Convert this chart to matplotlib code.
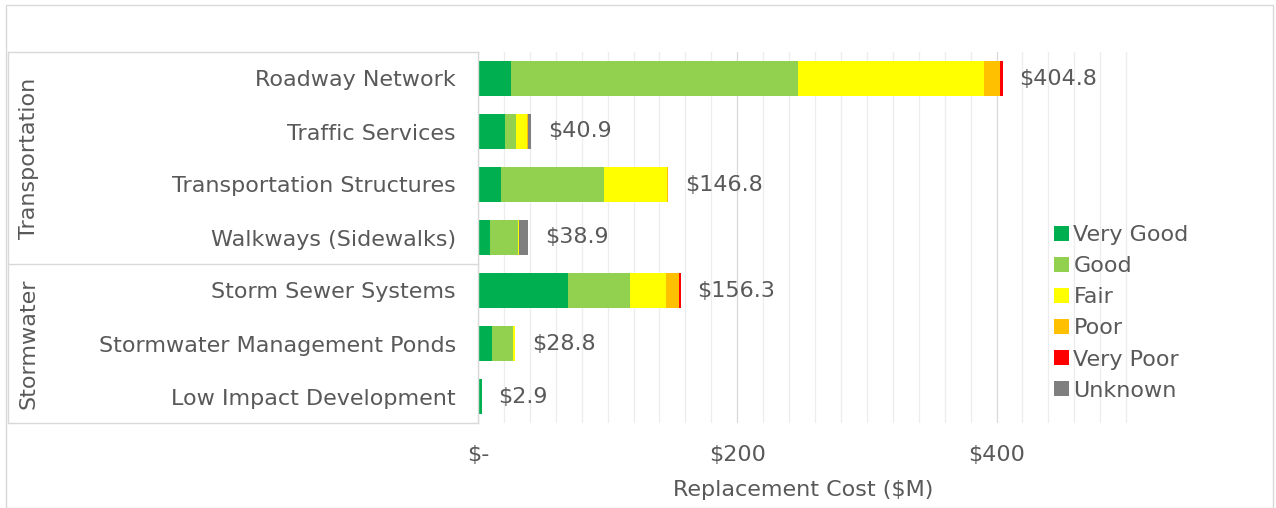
import numpy as np
import matplotlib
matplotlib.use("Agg")
import matplotlib.pyplot as plt
from matplotlib.patches import Patch
from matplotlib.lines import Line2D

# ==============================
# Data
# ==============================

categories = [
    "Roadway Network",
    "Traffic Services",
    "Transportation Structures",
    "Walkways (Sidewalks)",
    "Storm Sewer Systems",
    "Stormwater Management Ponds",
    "Low Impact Development",
]
groups = ["Transportation", "Stormwater"]
group_sizes = [4, 3]

conditions = ["Very Good", "Good", "Fair", "Poor", "Very Poor", "Unknown"]
very_good = [25.4, 21.0, 17.5, 9.3, 69.2, 11.0, 2.7]
good = [221.3, 8.5, 79.6, 21.3, 48.0, 16.2, 0.2]
fair = [143.4, 8.2, 48.8, 1.0, 27.8, 1.6, 0.0]
poor = [12.3, 0.8, 0.4, 0.0, 9.8, 0.0, 0.0]
very_poor = [2.4, 0.4, 0.5, 0.0, 1.5, 0.0, 0.0]
unknown = [0.0, 2.0, 0.0, 7.3, 0.0, 0.0, 0.0]
totals = [404.8, 40.9, 146.8, 38.9, 156.3, 28.8, 2.9]

x_ticks = [0, 200, 400]
x_tick_labels = ["$-", "$200", "$400"]

colors = ["#00B050", "#92D050", "#FFFF00", "#FFC000", "#FF0000", "#7F7F7F"]
TEXT = "#595959"
LINE = "#D9D9D9"
FS = 16

plt.rcParams["font.family"] = ["DejaVu Sans"]

W, H = 1276, 508
fig = plt.figure(figsize=(W / 100, H / 100), dpi=100)

ax_l, ax_r, ax_t, ax_b = 478, 1127.5, 52, 423
ax = fig.add_axes([ax_l / W, 1 - ax_b / H, (ax_r - ax_l) / W, (ax_b - ax_t) / H])

y = np.arange(len(categories))
series = [very_good, good, fair, poor, very_poor, unknown]
left = np.zeros(len(categories))
for vals, col, name in zip(series, colors, conditions):
    ax.barh(y, vals, left=left, height=0.66, color=col, label=name, zorder=3)
    left += np.array(vals)

for yi, tot in zip(y, totals):
    ax.annotate(f"${tot:.1f}", (tot, yi), xytext=(12, 0), textcoords="offset points",
                va="center", ha="left", fontsize=FS, color=TEXT)

ax.set_xlim(0, 501)
ax.set_ylim(len(categories) - 0.5, -0.5)
ax.set_yticks(y)
ax.set_yticklabels(categories, fontsize=FS, color=TEXT)
ax.set_xticks(x_ticks)
ax.set_xticklabels(x_tick_labels, fontsize=FS, color=TEXT)
ax.set_xticks(np.arange(0, 501, 20), minor=True)
ax.tick_params(axis="both", length=0, which="both")
ax.tick_params(axis="y", pad=16)
ax.tick_params(axis="x", pad=16)
ax.grid(axis="x", which="minor", color="#EDEDED", linewidth=0.9, zorder=0)
ax.grid(axis="x", which="major", color="#D9D9D9", linewidth=0.9, zorder=0)
for s in ax.spines.values():
    s.set_visible(False)
ax.set_xlabel("Replacement Cost ($M)", fontsize=FS, color=TEXT, labelpad=11)

# category box with group labels
def fx(px):
    return px / W

def fy(py):
    return 1 - py / H

box_l = 8
fig.add_artist(Line2D([fx(box_l), fx(ax_l)], [fy(ax_t), fy(ax_t)], color=LINE, lw=1))
fig.add_artist(Line2D([fx(box_l), fx(ax_l)], [fy(ax_b), fy(ax_b)], color=LINE, lw=1))
fig.add_artist(Line2D([fx(box_l), fx(box_l)], [fy(ax_t), fy(ax_b)], color=LINE, lw=1))
fig.add_artist(Line2D([fx(ax_l), fx(ax_l)], [fy(ax_t), fy(ax_b)], color=LINE, lw=1))

row_h = (ax_b - ax_t) / len(categories)
start = 0
for g, n in zip(groups, group_sizes):
    top = ax_t + start * row_h
    bot = ax_t + (start + n) * row_h
    if start > 0:
        fig.add_artist(Line2D([fx(box_l), fx(ax_l)], [fy(top), fy(top)], color=LINE, lw=1))
    fig.text(fx(29), fy((top + bot) / 2), g, rotation=90, ha="center", va="center",
             fontsize=FS, color=TEXT)
    start += n

# legend
handles = [Patch(facecolor=c, edgecolor="none", label=n) for c, n in zip(colors, conditions)]
fig.legend(handles=handles, loc="upper left", bbox_to_anchor=(fx(1043), fy(214)),
           frameon=False, fontsize=FS, labelcolor=TEXT, handlelength=0.65,
           handleheight=0.65, handletextpad=0.22, labelspacing=0.5, borderpad=0)

# outer border
fig.add_artist(plt.Rectangle((fx(6), fy(508)), fx(1267), fy(5) - fy(508), fill=False,
                             edgecolor=LINE, lw=1))

fig.savefig("out.png", dpi=100, facecolor="white")
